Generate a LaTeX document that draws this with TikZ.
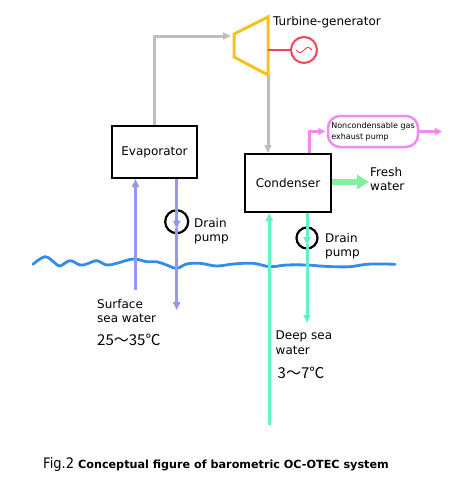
\documentclass[tikz,border=0pt]{standalone}
\usepackage{fontspec}
\setmainfont{DejaVu Sans}
\newfontfamily\cjkf{Noto Sans CJK JP}
\usetikzlibrary{arrows.meta}
\definecolor{steam}{RGB}{190,190,190}
\definecolor{turb}{RGB}{245,195,30}
\definecolor{genred}{RGB}{238,70,85}
\definecolor{surf}{RGB}{150,150,240}
\definecolor{deep}{RGB}{100,240,200}
\definecolor{fresh}{RGB}{130,240,160}
\definecolor{gas}{RGB}{240,140,240}
\definecolor{sea}{RGB}{50,140,235}
\begin{document}
\begin{tikzpicture}[x=1pt,y=-1pt,
  lbl/.style={font=\fontsize{12}{14.3}\selectfont, inner sep=0pt, align=left},
  box/.style={draw=black, line width=2pt, fill=white, inner sep=0pt, font=\fontsize{12}{14}\selectfont},
  tip/.style={-{Triangle[length=8pt,width=7pt]}},
  steamline/.style={draw=steam, line width=3pt, tip},
  surfline/.style={draw=surf, line width=3pt, tip},
  deepline/.style={draw=deep, line width=3pt, tip},
  gasline/.style={draw=gas, line width=3pt, tip},
  pumpc/.style={circle, draw=black, line width=2.2pt, minimum size=21pt, inner sep=0pt},
  temp/.style={font=\cjkf\fontsize{15}{16}\selectfont, inner sep=0pt}
]
\useasboundingbox (0,0) rectangle (470,499);
\fill[white] (0,0) rectangle (470,499);

% sea surface
\draw[sea, line width=2.8pt, line cap=round] plot[smooth, tension=0.6] coordinates {
 (33,264.3) (45,256.7) (55,263) (60,266) (70,260.7) (80,265) (86.7,264) (96.7,260.7)
 (106.7,265) (116.7,263.3) (133.3,259) (146.7,261.7) (156.7,261.7) (166.7,265)
 (176.7,268.3) (186.7,264) (200,263.3) (216.7,266) (233.3,264) (253.3,263.3)
 (270,266.7) (286.7,265) (306.7,265) (320,266) (333.3,266.7) (350,266.7)
 (366.7,264.3) (383.3,264) (395,264.3)};

% boxes
\node[box, minimum width=85pt, minimum height=52pt] (evap) at (154.5,152) {Evaporator};
\node[box, minimum width=86pt, minimum height=58pt] (cond) at (288,183) {Condenser};

% turbine
\coordinate (t1) at (234,34);
\coordinate (t2) at (268,17);
\coordinate (t3) at (268,75);
\coordinate (t4) at (234,57);
\coordinate (tin) at (231,36);
\draw[turb, line width=3pt, line join=miter] (t1) -- (t2) -- (t3) -- (t4) -- cycle;
\node[lbl, anchor=west] (tgl) at (273,22) {Turbine-generator};

% generator
\node[circle, draw=genred, line width=2pt, minimum size=26pt, inner sep=0pt] (gen) at (304,50) {};
\draw[genred, line width=2.5pt] (268,50) -- (gen.west);
\draw[genred, line width=1pt] plot[smooth, domain=-8:8, samples=25] ({304+\x},{50-2.5*sin(\x*22.5)});

% steam lines
\draw[steamline] (evap.north) |- (tin);
\draw[steamline] (t3) -- (t3 |- cond.north);

% noncondensable gas
\node[draw=gas, line width=2.5pt, rounded corners=12pt, minimum width=90pt, minimum height=31pt,
  inner sep=0pt, align=left, font=\fontsize{8}{11}\selectfont] (gasbox) at (373,131.5)
  {Noncondensable gas\\exhaust pump};
\coordinate (gasout) at (309,0);
\draw[gasline, -{Triangle[length=7pt,width=7pt]}] (gasout |- cond.north) |- ([xshift=-1.5pt]gasbox.west);
\coordinate (gasend) at (442,131.5);
\draw[gasline, -{Triangle[length=7pt,width=7pt]}] (gasbox.east) -- (gasend);

% fresh water
\coordinate (fwend) at (369,182);
\draw[fresh, line width=6pt, -{Triangle[length=12pt,width=14pt]}] (cond.east |- fwend) -- (fwend);
\node[lbl, anchor=west] (fwl) at (370,179) {Fresh\\water};

% surface sea water
\coordinate (sin) at (135.5,290);
\draw[surfline] (sin) -- (sin |- evap.south);
\coordinate (sout) at (176.7,310);
\node[pumpc, minimum width=20pt, minimum height=23pt] (dp1) at (176.7,221.7) {};
\draw[surfline] (sout |- evap.south) -- ([yshift=-7pt]dp1.center);
\draw[surfline] ([yshift=-6pt]dp1.center) -- (sout);
\node[lbl, anchor=west] (dpl1) at (194,231) {Drain\\pump};
\node[lbl, anchor=north west] (ssw) at (97,299) {Surface\\sea water};
\node[temp, anchor=west] (sst) at (97,340) {25〜35℃};

% deep sea water
\coordinate (din) at (269.3,425);
\draw[deepline] (din) -- (din |- cond.south);
\coordinate (dout) at (307,323);
\node[pumpc] (dp2) at (307,238) {};
\draw[deepline] (dout |- cond.south) -- ([yshift=-7pt]dp2.center);
\draw[deepline] ([yshift=-6pt]dp2.center) -- (dout);
\node[lbl, anchor=west] (dpl2) at (325,246) {Drain\\pump};
\node[lbl, anchor=north west] (dsw) at (275.5,331) {Deep sea\\water};
\node[temp, anchor=west] (dst) at (277.5,373) {3〜7℃};

% caption
\node[anchor=west, inner sep=0pt] (cap) at (43,464)
  {\scalebox{0.9}[1]{\fontsize{14.5}{16}\selectfont Fig.2}\hspace{4pt}{\fontsize{11.2}{13}\selectfont\bfseries Conceptual figure of barometric OC-OTEC system}};
\end{tikzpicture}
\end{document}
